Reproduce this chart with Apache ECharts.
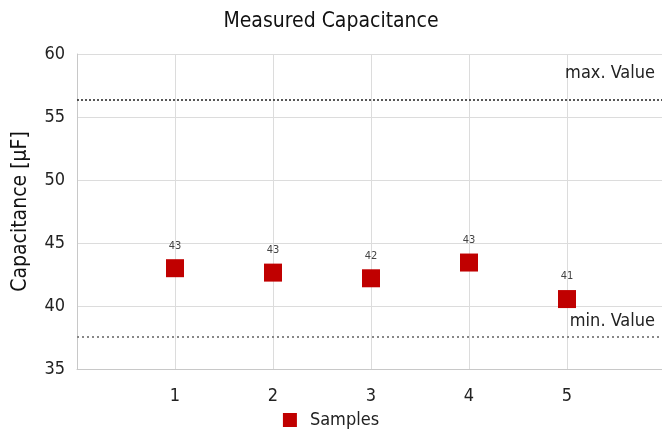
<!DOCTYPE html>
<html>
<head>
<meta charset="utf-8">
<script src="https://cdn.jsdelivr.net/npm/echarts@6/dist/echarts.min.js"></script>
<style>
  html, body { margin: 0; padding: 0; background: #fff; }
  #chart { width: 662px; height: 435px; }
</style>
</head>
<body>
<div id="chart"></div>
<script>
// sample numbers and measured values
var sampleNo = [1, 2, 3, 4, 5]
var capacitance = [43.0, 42.65, 42.2, 43.45, 40.55]
var maxValue = 56.35
var minValue = 37.55
var yTicks = [35, 40, 45, 50, 55, 60]

var font = '"DejaVu Sans Condensed", "Liberation Sans Narrow", sans-serif'

var chart = echarts.init(document.getElementById('chart'))
chart.setOption({
  animation: false,
  textStyle: { fontFamily: font },
  title: {
    text: 'Measured Capacitance',
    left: 'center',
    top: 6,
    textStyle: { fontFamily: font, fontSize: 21, fontWeight: 'normal', color: '#111' }
  },
  legend: {
    bottom: 1,
    left: 'center',
    icon: 'rect',
    itemWidth: 14,
    itemHeight: 14,
    textStyle: { fontFamily: font, fontSize: 18, color: '#222', padding: [0, 0, 0, 8] },
    data: ['Samples']
  },
  grid: {
    left: 77,
    top: 54,
    width: 588,
    height: 315,
    outerBoundsMode: 'none'
  },
  xAxis: {
    type: 'value',
    min: 0,
    max: 6,
    interval: 1,
    axisLine: { show: true, lineStyle: { color: '#c8c8c8' } },
    axisTick: { show: false },
    splitLine: { show: true, lineStyle: { color: '#dcdcdc' } },
    axisLabel: {
      fontFamily: font,
      fontSize: 18,
      color: '#222',
      margin: 18,
      formatter: function (v) { return sampleNo.indexOf(v) >= 0 ? String(v) : '' }
    }
  },
  yAxis: {
    type: 'value',
    min: yTicks[0],
    max: yTicks[yTicks.length - 1],
    interval: 5,
    name: 'Capacitance [µF]',
    nameLocation: 'middle',
    nameGap: 46,
    nameTextStyle: { fontFamily: font, fontSize: 21, color: '#111' },
    axisLine: { show: true, lineStyle: { color: '#c8c8c8' } },
    axisTick: { show: false },
    splitLine: { show: true, lineStyle: { color: '#dcdcdc' } },
    axisLabel: { fontFamily: font, fontSize: 18, color: '#222', margin: 12 }
  },
  series: [{
    name: 'Samples',
    type: 'scatter',
    symbol: 'rect',
    symbolSize: 18,
    itemStyle: { color: '#c00000', opacity: 1 },
    data: sampleNo.map(function (n, i) { return [n, capacitance[i]] }),
    label: {
      show: true,
      position: 'top',
      distance: 8,
      fontFamily: font,
      fontSize: 11,
      color: '#444',
      formatter: function (p) { return Math.round(p.value[1]) }
    },
    markLine: {
      silent: true,
      symbol: 'none',
      data: [
        {
          yAxis: maxValue,
          lineStyle: { color: '#222', type: [2, 2], width: 1.5 },
          label: { formatter: 'max. Value', position: 'insideEndTop', color: '#222', fontSize: 18, fontFamily: font, distance: [10, 18] }
        },
        {
          yAxis: minValue,
          lineStyle: { color: '#888', type: [2, 3], width: 2 },
          label: { formatter: 'min. Value', position: 'insideEndTop', color: '#222', fontSize: 18, fontFamily: font, distance: [10, 7] }
        }
      ]
    }
  }]
})
</script>
</body>
</html>
